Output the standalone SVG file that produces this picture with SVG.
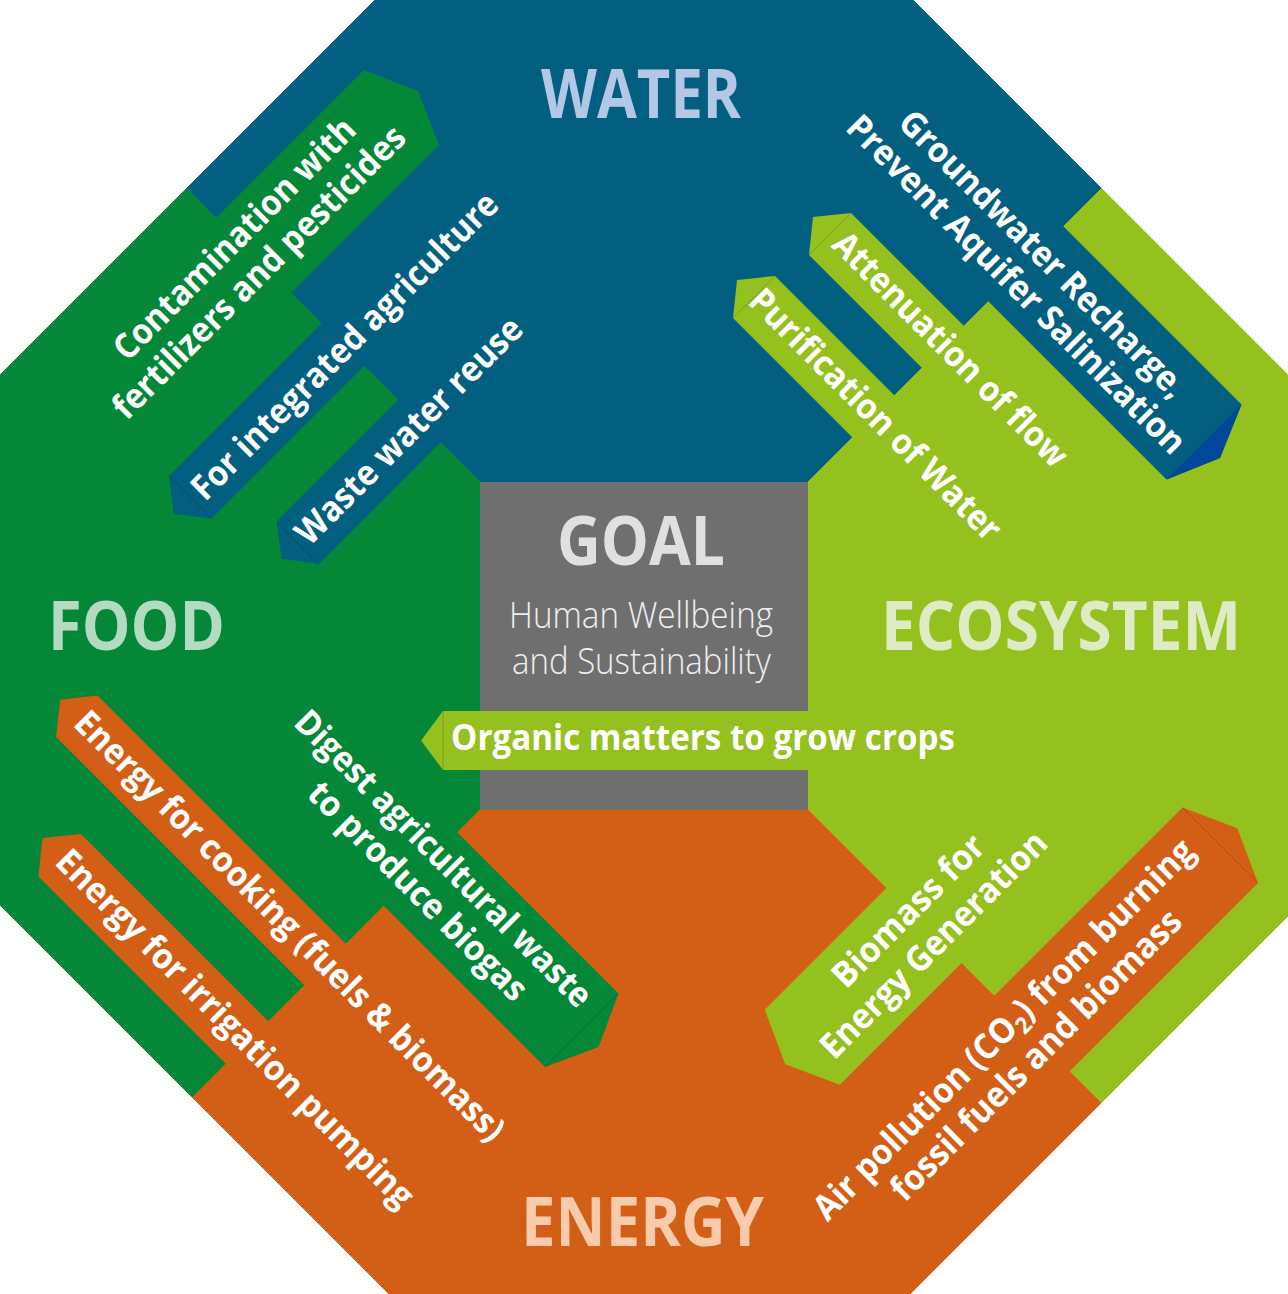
<svg xmlns="http://www.w3.org/2000/svg" width="1288" height="1294" viewBox="0 0 1288 1294">
<style>
.lbl{font-family:"Open Sans","Liberation Sans",sans-serif;font-weight:700;font-size:35px;fill:#fff}
.ttl{font-family:"Open Sans","Liberation Sans",sans-serif;font-weight:700;font-size:68px}
.sub{font-family:"Open Sans","Liberation Sans",sans-serif;font-weight:300;font-size:37px;fill:#efefef}
.fold{fill:none;stroke:#000;stroke-opacity:.22;stroke-width:.8}
.blue{fill:#025F7F}
.green{fill:#058738}
.lime{fill:#95C11F}
.orange{fill:#D35E15}
</style>
<rect width="1288" height="1294" fill="#fff"/>
<g id="water">
<polygon class="blue" stroke="#025F7F" points="375,0 913,0 1101.5,188.5 808,482 480,482 186.5,188.5"/>
<text class="ttl" x="541" y="118" textLength="200" lengthAdjust="spacingAndGlyphs" fill="#B4C7E7">WATER</text>
</g>
<g id="food">
<polygon class="green" stroke="#058738" points="186.5,188.5 480,482 480,810 192.5,1097.5 0,905 0,375"/>
<text class="ttl" x="48" y="650" textLength="177" lengthAdjust="spacingAndGlyphs" fill="#B3DBC2">FOOD</text>
</g>
<g id="ecosystem">
<polygon class="lime" stroke="#95C11F" points="1101.5,188.5 1288,375 1288,916 1101,1103 808,810 808,482"/>
<text class="ttl" x="881" y="650" textLength="360" lengthAdjust="spacingAndGlyphs" fill="#DFEBC4">ECOSYSTEM</text>
</g>
<g id="energy">
<polygon class="orange" stroke="#D35E15" points="808,810 1101,1103 910,1294 389,1294 192.5,1097.5 480,810"/>
<text class="ttl" x="521" y="1246" textLength="243" lengthAdjust="spacingAndGlyphs" fill="#F8CBAD">ENERGY</text>
</g>
<g id="goal">
<rect x="480" y="482" width="328" height="328" fill="#706F6F"/>
<text class="ttl" x="557" y="565" textLength="168" lengthAdjust="spacingAndGlyphs" fill="#E0E0E0">GOAL</text>
<text class="sub" x="509" y="628" textLength="264" lengthAdjust="spacingAndGlyphs">Human Wellbeing</text>
<text class="sub" x="512" y="674" textLength="259" lengthAdjust="spacingAndGlyphs">and Sustainability</text>
</g>
<g id="connectors">
<g id="contamination">
<polygon class="green" points="202,232 364,70 418,91 439,145 277,307"/>
<text class="lbl" text-anchor="middle" transform="translate(242.75,247.25) rotate(-45)" textLength="326" lengthAdjust="spacingAndGlyphs">Contamination with</text>
<text class="lbl" text-anchor="middle" transform="translate(267.5,280.5) rotate(-45)" textLength="398" lengthAdjust="spacingAndGlyphs">fertilizers and pesticides</text>
</g>
<g id="integrated-agriculture">
<polygon class="blue" points="337.5,307.5 380,350 211.5,518.5 173.75,513.75 169,476"/>
<line class="fold" x1="169" y1="476" x2="211.5" y2="518.5"/>
<text class="lbl" text-anchor="middle" transform="translate(353,354.5) rotate(-45)" textLength="418" lengthAdjust="spacingAndGlyphs">For integrated agriculture</text>
</g>
<g id="waste-water">
<polygon class="blue" points="414,384 456.5,426.5 319,564 281.75,558.75 276.5,521.5"/>
<line class="fold" x1="276.5" y1="521.5" x2="319" y2="564"/>
<text class="lbl" text-anchor="middle" transform="translate(417.4,439.1) rotate(-45)" textLength="305" lengthAdjust="spacingAndGlyphs">Waste water reuse</text>
</g>
<g id="groundwater">
<polygon class="blue" points="973.5,286.5 1048.5,211.5 1241.5,404.5 1220,458 1166.5,479.5"/>
<polygon fill="#02489A" points="1241.5,404.5 1220,458 1166.5,479.5"/>
<text class="lbl" text-anchor="middle" transform="translate(1034.5,262.5) rotate(45)" textLength="390" lengthAdjust="spacingAndGlyphs">Groundwater Recharge,</text>
<text class="lbl" text-anchor="middle" transform="translate(1008,293) rotate(45)" textLength="463" lengthAdjust="spacingAndGlyphs">Prevent Aquifer Salinization</text>
</g>
<g id="attenuation">
<polygon class="lime" points="937,383 979,341 851,213 813,217 809,255"/>
<line class="fold" x1="851" y1="213" x2="809" y2="255"/>
<text class="lbl" text-anchor="middle" transform="translate(942,358) rotate(45)" textLength="316" lengthAdjust="spacingAndGlyphs">Attenuation of flow</text>
</g>
<g id="purification">
<polygon class="lime" points="867.5,452.5 909.5,410.5 775,276 737,280 733,318"/>
<line class="fold" x1="775" y1="276" x2="733" y2="318"/>
<text class="lbl" text-anchor="middle" transform="translate(867,423) rotate(45)" textLength="340" lengthAdjust="spacingAndGlyphs">Purification of Water</text>
</g>
<g id="cooking">
<polygon class="orange" points="361,959 319.5,1000.5 56,737 60.25,699.75 97.5,695.5"/>
<text class="lbl" transform="translate(72,725) rotate(45)" textLength="592" lengthAdjust="spacingAndGlyphs">Energy for cooking (fuels &amp; biomass)</text>
</g>
<g id="irrigation">
<polygon class="orange" points="283.5,1036.5 241,1079 38.5,876.5 42.5,838 81,834"/>
<text class="lbl" transform="translate(53.5,863.5) rotate(45)" textLength="490" lengthAdjust="spacingAndGlyphs">Energy for irrigation pumping</text>
</g>
<g id="digest">
<polygon class="green" points="442.5,817.5 369,891 545,1067 598.5,1047 618.5,993.5"/>
<line class="fold" x1="618.5" y1="993.5" x2="545" y2="1067"/>
<text class="lbl" text-anchor="middle" transform="translate(435,867) rotate(45)" textLength="404" lengthAdjust="spacingAndGlyphs">Digest agricultural waste</text>
<text class="lbl" text-anchor="middle" transform="translate(409.5,899.5) rotate(45)" textLength="294" lengthAdjust="spacingAndGlyphs">to produce biogas</text>
</g>
<g id="organic">
<polygon class="lime" points="830,711 443,711 421,740.5 443,770 830,770"/>
<line class="fold" x1="443" y1="711" x2="443" y2="770"/>
<text class="lbl" x="451" y="750" textLength="504" lengthAdjust="spacingAndGlyphs">Organic matters to grow crops</text>
</g>
<g id="biomass">
<polygon class="lime" points="902.25,872.25 977.25,947.25 839.75,1084.75 785.25,1064.25 764.75,1009.75"/>
<text class="lbl" text-anchor="middle" transform="translate(916.75,919.25) rotate(-45)" textLength="200" lengthAdjust="spacingAndGlyphs">Biomass for</text>
<text class="lbl" text-anchor="middle" transform="translate(942,953) rotate(-45)" textLength="305" lengthAdjust="spacingAndGlyphs">Energy Generation</text>
</g>
<g id="air-pollution">
<polygon class="orange" points="980,1010 1055.5,1085.5 1258,883 1237.25,828.25 1182.5,807.5"/>
<line class="fold" x1="1182.5" y1="807.5" x2="1258" y2="883"/>
<text class="lbl" text-anchor="middle" transform="translate(1012,1038) rotate(-45)" textLength="522" lengthAdjust="spacingAndGlyphs">Air pollution (CO<tspan font-size="23" dy="7">2</tspan><tspan dy="-7">) from burning</tspan></text>
<text class="lbl" text-anchor="middle" transform="translate(1044.5,1063.5) rotate(-45)" textLength="395" lengthAdjust="spacingAndGlyphs">fossil fuels and biomass</text>
</g>
</g>
</svg>
